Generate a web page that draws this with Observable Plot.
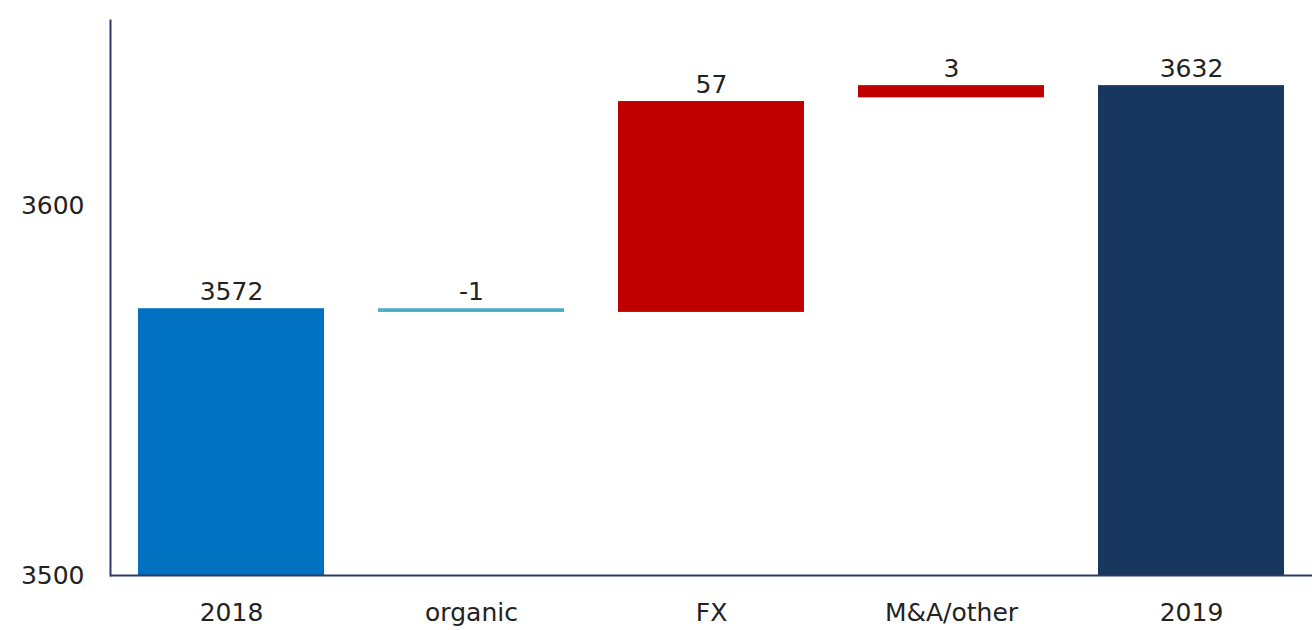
<!DOCTYPE html>
<html><head><meta charset="utf-8">
<script src="https://cdn.jsdelivr.net/npm/d3@7"></script>
<script src="https://cdn.jsdelivr.net/npm/@observablehq/plot@0.6"></script>
<style>body{margin:0;background:#fff;}</style>
</head><body><div id="chart"></div>
<script>
const categories = ["2018", "organic", "FX", "M&A/other", "2019"];
const labels = [3572, -1, 57, 3, 3632];
const barLow = [3500, 3571.1, 3571.1, 3629.1, 3500];
const barHigh = [3572.1, 3572.1, 3628.1, 3632.4, 3632.4];
const colors = ["#0070C0", "#4BACC6", "#C00000", "#C00000", "#17375E"];
const yTicks = [3500, 3600];

const data = categories.map((c, i) => ({cat: c, label: String(labels[i]), low: barLow[i], high: barHigh[i], color: colors[i]}));

const chart = Plot.plot({
  width: 1315, height: 630,
  marginTop: 20, marginBottom: 55, marginLeft: 110, marginRight: 3,
  style: {fontFamily: "DejaVu Sans", fontSize: "25px", color: "#222", background: "#fff"},
  x: {domain: categories, paddingInner: 0.224, paddingOuter: 0.108},
  y: {domain: [3500, 3650]},
  color: {type: "identity"},
  marks: [
    Plot.barY(data, {x: "cat", y1: "low", y2: "high", fill: "color"}),
    Plot.axisY(yTicks, {tickSize: 0, tickPadding: 26, fontSize: 25, label: null, tickFormat: d => String(d)}),
    Plot.axisX({tickSize: 0, tickPadding: 28, fontSize: 25, label: null}),
    Plot.frame({anchor: "left", stroke: "#303865", strokeWidth: 2}),
    Plot.ruleY([3500], {stroke: "#303865", strokeWidth: 2}),
    Plot.text(data, {x: "cat", y: "high", text: "label", lineAnchor: "bottom", dy: -9, fontSize: 25, fill: "#222"})
  ]
});
document.getElementById("chart").append(chart);
</script>
</body></html>
